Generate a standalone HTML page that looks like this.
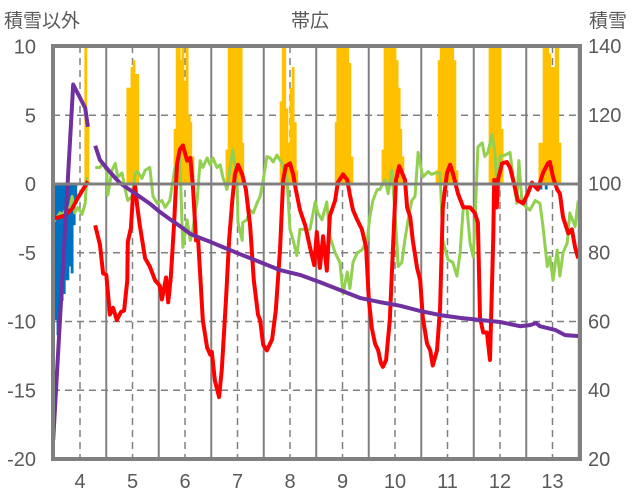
<!DOCTYPE html>
<html><head><meta charset="utf-8">
<style>
body{margin:0;background:#fff;}
svg{display:block;font-family:"Liberation Sans","Noto Sans CJK JP",sans-serif;}
</style></head>
<body>
<svg id="chart" width="636" height="501" viewBox="0 0 636 501">
<g id="grid"></g>
<g id="bars"></g>
<g id="lines"></g>
<g id="frame"></g>
<g id="labels"></g>
</svg>
<script>
const xTicks=[4,5,6,7,8,9,10,11,12,13];
const leftTicks=[10,5,0,-5,-10,-15,-20];
const rightTicks=[140,120,100,80,60,40,20];

const redX=[3.52,3.71,3.85,3.96,4.15,null,4.29,4.38,4.44,4.50,4.57,4.63,4.70,4.78,4.84,4.90,4.91,4.97,5.01,5.05,5.09,5.14,5.24,5.33,5.43,5.52,5.56,5.64,5.68,5.73,5.79,5.85,5.90,5.96,6.04,6.10,6.15,6.21,6.25,6.29,6.34,6.42,6.48,6.51,6.57,6.65,6.70,6.78,6.84,6.90,6.95,7.01,7.09,7.16,7.24,7.31,7.39,7.43,7.49,7.56,7.66,7.73,7.81,7.87,7.92,8.00,8.06,8.11,8.19,8.29,8.38,8.46,8.51,8.57,8.63,8.70,8.76,8.86,8.91,9.01,9.09,9.14,9.20,9.28,9.37,9.45,9.50,9.56,9.62,9.68,9.73,9.77,9.83,9.90,9.96,10.02,10.08,10.19,10.23,10.29,10.34,10.42,10.48,10.53,10.61,10.67,10.72,10.80,10.86,10.91,10.99,11.05,11.10,11.20,11.30,11.43,11.52,11.58,11.62,11.68,11.75,11.81,11.87,11.89,11.94,11.96,12.04,12.13,12.19,12.25,12.34,12.44,12.53,12.61,12.67,12.72,12.82,12.91,12.95,13.01,13.09,13.14,13.20,13.30,13.37,13.43,13.49];
const redV=[-2.5,-2.3,-1.8,-1.0,0.2,null,-3.0,-4.4,-6.5,-6.6,-9.5,-9.0,-9.9,-9.3,-9.2,-7.0,-4.2,-3.2,-0.8,-0.1,-1.6,-3.0,-5.4,-6.0,-7.0,-7.4,-8.4,-6.8,-8.6,-6.8,-3.0,1.5,2.5,2.8,1.7,1.9,-0.1,-4.1,-4.0,-6.6,-9.9,-11.9,-12.4,-12.2,-14.3,-15.5,-13.5,-8.4,-4.1,-1.2,0.7,1.4,0.7,-0.4,-3.0,-7.0,-9.5,-9.9,-11.7,-12.1,-11.3,-9.2,-4.8,0.3,1.3,1.5,0.7,-0.4,-1.9,-3.0,-4.6,-5.9,-3.5,-6.1,-3.8,-6.3,-2.3,-1.2,0.1,0.7,0.3,-0.8,-1.9,-2.6,-3.3,-4.6,-8.4,-10.5,-11.6,-12.1,-13.0,-13.3,-12.8,-9.9,-4.8,0.3,1.3,0.3,-1.7,-2.4,-4.1,-6.1,-7.0,-9.7,-11.6,-12.1,-13.2,-12.1,-9.0,-1.7,0.8,1.4,0.8,-0.7,-1.7,-1.7,-2.1,-2.8,-9.7,-10.8,-10.8,-12.8,-4.1,0.3,-1.7,0.3,1.5,1.6,1.2,0.3,-1.2,-1.4,-0.7,0.1,-0.2,-0.4,0.8,1.5,1.6,0.5,-0.4,-0.7,-2.4,-3.6,-3.3,-4.6,-5.4];

const greenX=[3.49,3.62,3.68,3.75,3.81,3.85,3.90,3.96,4.04,4.10,4.13,null,4.29,4.38,4.44,4.51,4.53,4.61,4.67,4.72,4.80,4.86,4.91,4.99,5.05,5.10,5.18,5.24,5.33,5.39,5.47,5.56,5.62,5.71,5.81,5.87,5.90,5.94,5.96,6.04,6.10,6.15,6.23,6.29,6.34,6.42,6.48,6.53,6.61,6.67,6.72,6.80,6.86,6.91,6.99,7.01,7.09,7.10,7.18,7.24,7.30,7.37,7.43,7.49,7.56,7.62,7.68,7.75,7.85,7.94,8.00,8.06,8.13,8.19,8.29,8.38,8.48,8.53,8.61,8.70,8.76,8.86,8.95,9.01,9.09,9.14,9.20,9.28,9.37,9.47,9.52,9.58,9.66,9.71,9.81,9.87,9.94,10.00,10.06,10.13,10.19,10.25,10.32,10.38,10.44,10.53,10.63,10.70,10.76,10.86,10.91,11.01,11.10,11.18,11.24,11.30,11.37,11.43,11.49,11.52,11.58,11.66,11.71,11.77,11.85,11.90,11.96,12.00,12.10,12.19,12.25,12.32,12.36,12.42,12.51,12.57,12.67,12.76,12.82,12.90,12.95,13.01,13.09,13.14,13.20,13.28,13.33,13.43,13.49];
const greenV=[-2.8,-2.1,-2.2,-1.7,-1.7,-0.9,-2.1,-1.7,-2.2,-1.4,0.5,null,1.2,1.2,1.5,0.9,-0.8,1.0,1.5,0.5,0.8,-0.4,-1.2,-0.9,0.8,0.9,0.4,1.0,1.2,-0.9,-1.4,-1.2,-1.7,-1.2,1.2,1.2,2.0,-2.6,-4.6,-2.6,-4.1,-3.3,-1.2,1.7,1.2,1.9,1.4,1.9,1.2,1.4,0.5,-0.4,1.2,2.5,0.3,-2.8,-4.1,-2.8,-2.6,-1.9,-2.1,-1.4,-0.9,0.3,2.0,1.9,1.6,2.1,1.5,0.5,-3.3,-4.1,-5.2,-3.3,-3.3,-3.3,-1.3,-2.1,-2.6,-1.3,-3.8,-5.0,-5.7,-8.0,-6.4,-7.6,-5.7,-5.0,-4.8,-4.1,-2.4,-1.2,-0.4,-0.4,0.3,-0.7,1.0,-2.1,-6.0,-5.7,-4.0,-2.6,-1.2,-0.9,2.3,0.5,0.9,0.7,0.8,0.8,-4.1,-5.5,-5.7,-6.7,-5.0,-1.7,-1.7,-4.3,-5.3,-3.1,2.7,3.0,2.0,2.3,3.6,2.3,-1.2,2.0,2.1,2.3,0.5,-1.4,1.7,-1.4,-1.7,-1.9,-1.2,-1.4,-3.1,-6.0,-5.3,-7.0,-4.8,-6.7,-5.0,-4.3,-2.1,-3.1,-1.2];

const purpleX=[3.49,3.87,4.10,4.15,null,4.29,4.38,4.57,4.76,4.95,5.14,5.33,5.52,5.71,5.90,6.10,6.29,6.48,6.67,6.86,7.05,7.43,7.81,8.19,8.57,8.95,9.33,9.71,10.10,10.48,10.86,11.24,11.62,12.00,12.38,12.57,12.69,12.76,13.05,13.24,13.52];
const purpleV=[25.5,128.8,122,116.5,null,111,106.9,103.4,100.2,98.2,96.2,94.2,91.8,89.7,87.7,85.4,84.2,83.1,81.9,80.7,79.5,77.2,74.9,73.5,71.4,69.1,66.8,65.6,64.5,63.0,61.8,61.0,60.4,59.8,58.6,58.9,59.5,58.6,57.5,56.0,55.7];

const yellowX=[4.11,4.15,4.91,4.95,4.99,5.03,5.07,5.10,5.81,5.85,5.89,5.92,5.96,6.00,6.04,6.08,6.11,6.15,6.80,6.84,6.88,6.91,6.95,6.99,7.03,7.07,7.10,7.83,7.87,7.90,7.94,7.98,8.02,8.06,8.10,8.13,8.88,8.91,8.95,8.99,9.03,9.07,9.10,9.14,9.18,9.77,9.81,9.85,9.89,9.92,9.96,10.00,10.04,10.08,10.11,10.15,10.80,10.84,10.88,10.91,10.95,10.99,11.03,11.07,11.10,11.14,11.18,11.81,11.85,11.89,11.92,11.96,12.00,12.04,12.76,12.80,12.84,12.88,12.91,12.95,12.99,13.03,13.07,13.10,13.14];
const yellowV=[10,4.2,7,7,8.5,9,8,8,4,10,10,9,10,7.5,10,5,4.5,2,2.5,10,10,10,10,10,10,10,3,6,10,10,5.5,3,7,8.5,4.5,1,4.5,10,10,10,10,10,10,8.8,2,2.5,10,10,10,10,10,10,9,7,4,2,1,9,10,10,10,10,10,10,10,9,1,10,10,10,10,10,10,4,3,3,10,10,10,9.5,8.5,8.5,10,10,3];

const blueX=[3.50,3.54,3.58,3.62,3.66,3.70,3.73,3.77,3.81,3.85,3.89,3.92,12.78,12.88];
const blueV=[-6.5,-9.9,-11,-9.5,-8.5,-8,-7,-7,-6,-6.5,-3,-1,-0.4,-0.4];

const NS='http://www.w3.org/2000/svg';
const L=53,R=580,T=46,B=459;
function xs(m){return 80+(m-4)*52.5;}
function yl(v){return 184-v*13.75;}
function yr(v){return 459-(v-20)*3.4417;}
function mk(tag,attrs,parent){const e=document.createElementNS(NS,tag);for(const k in attrs)e.setAttribute(k,attrs[k]);parent.appendChild(e);return e;}
const grid=document.getElementById('grid'),bars=document.getElementById('bars'),lines=document.getElementById('lines'),frame=document.getElementById('frame'),labels=document.getElementById('labels');

leftTicks.forEach(v=>{
  if(v===10||v===-20||v===0)return;
  const e=mk('line',{x1:L,x2:R,y1:yl(v),y2:yl(v),stroke:'#808080','stroke-width':1.5,'stroke-dasharray':'7,5'},grid);
  
  
});
xTicks.forEach(m=>{
  const e=mk('line',{x1:xs(m),x2:xs(m),y1:T,y2:B,stroke:'#808080','stroke-width':1.5,'stroke-dasharray':'7,5'},grid);
  
  
  if(m<13.5){
    const s=mk('line',{x1:xs(m+0.5),x2:xs(m+0.5),y1:T,y2:B,stroke:'#808080','stroke-width':2},grid);
    
    
  }
});

function drawBars(X,V,color,name){
  X.forEach((m,i)=>{
    const v=Math.max(-20,Math.min(10,V[i]));
    const y0=yl(0),y1=yl(v);
    const r=mk('rect',{x:xs(m)-1.4,width:2.8,y:Math.min(y0,y1),height:Math.abs(y1-y0),fill:color},bars);
    
    
  });
}
drawBars(yellowX,yellowV,'#FFC000','snow-bar');
drawBars(blueX,blueV,'#0070C0','negative-bar');

function drawLine(X,V,yf,color,w,name){
  let d='',pen=false;
  X.forEach((m,i)=>{
    if(m===null||V[i]===null){pen=false;return;}
    d+=(pen?'L':'M')+xs(m).toFixed(1)+','+yf(V[i]).toFixed(1);pen=true;
  });
  const p=mk('path',{d:d,fill:'none',stroke:color,'stroke-width':w,'stroke-linejoin':'round'},lines);
  
  
}
drawLine(greenX,greenV,yl,'#92D050',3,'green-series');
drawLine(redX,redV,yl,'#FF0000',4,'red-series');
drawLine(purpleX,purpleV,yr,'#7030A0',4,'snow-depth-line');

const z=mk('line',{x1:L,x2:R,y1:yl(0),y2:yl(0),stroke:'#808080','stroke-width':3},frame);


const fr=mk('rect',{x:L,y:T,width:R-L,height:B-T,fill:'none',stroke:'#808080','stroke-width':4},frame);



function txt(s,x,y,anchor,size,name){
  const t=mk('text',{x:x,y:y,'text-anchor':anchor,'font-size':size,fill:'#595959'},labels);
  t.textContent=s;
  
  
}
leftTicks.forEach(v=>txt(String(v),36,yl(v)+7,'end',20,'left-tick-label'));
rightTicks.forEach(v=>txt(String(v),588,yr(v)+7,'start',20,'right-tick-label'));
xTicks.forEach(m=>txt(String(m),xs(m),488,'middle',20,'x-tick-label'));
txt('積雪以外',4,27,'start',19,'left-axis-title');
txt('帯広',310,27,'middle',19,'chart-title');
txt('積雪',589,27,'start',19,'right-axis-title');
</script>
</body></html>
